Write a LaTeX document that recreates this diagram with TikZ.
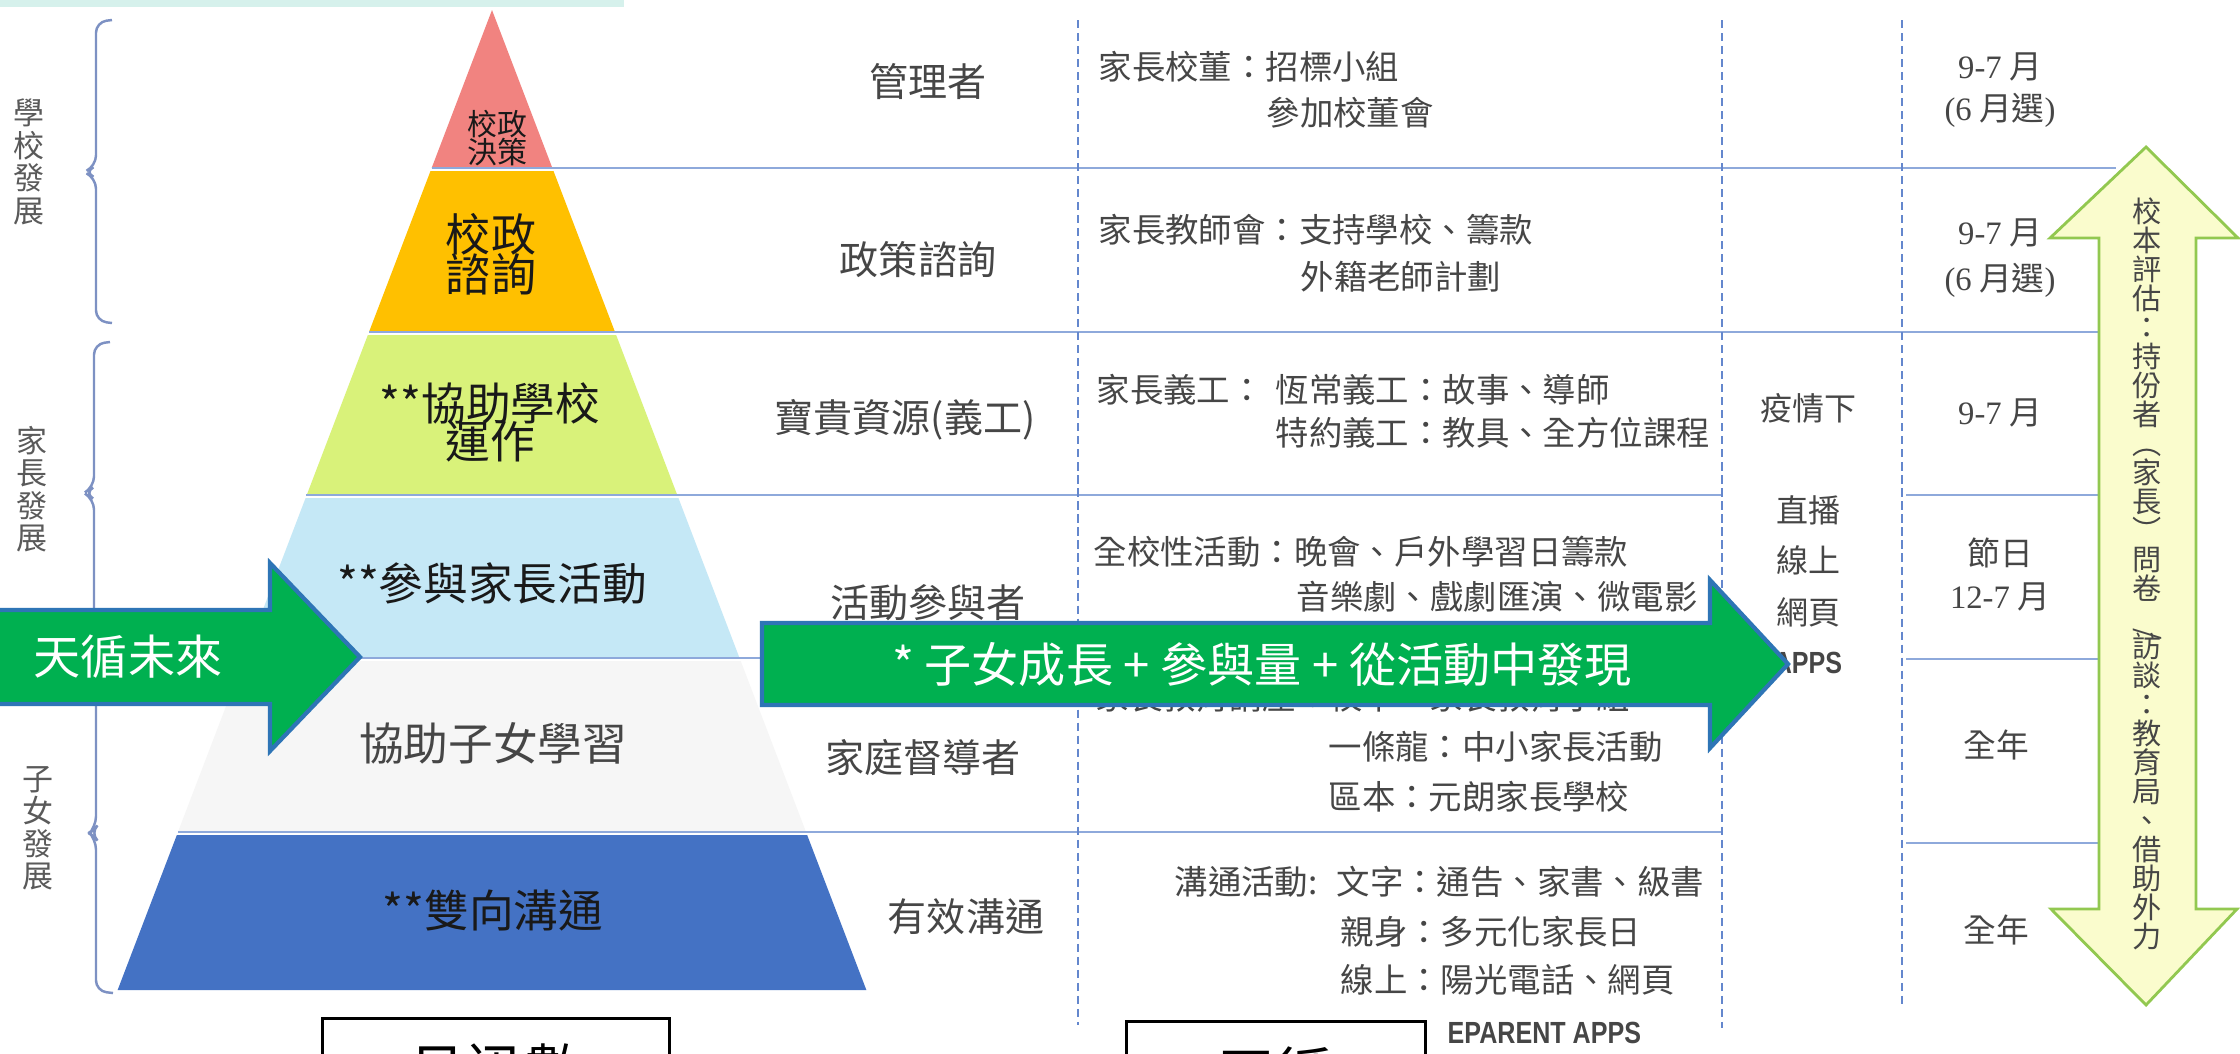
\documentclass[tikz,border=0pt]{standalone}
\usepackage{fontspec}
\usepackage{graphicx}
\setmainfont{Noto Sans CJK TC}
\newfontfamily\numfont{Liberation Serif}
\newfontfamily\appsfont[FakeStretch=0.82]{Liberation Sans}
\definecolor{tipred}{RGB}{241,131,128}
\definecolor{advorange}{RGB}{255,192,0}
\definecolor{helpgreen}{RGB}{217,242,122}
\definecolor{joinblue}{RGB}{197,232,246}
\definecolor{homewhite}{RGB}{246,246,246}
\definecolor{talkblue}{RGB}{68,114,196}
\definecolor{rowblue}{RGB}{142,169,219}
\definecolor{dashblue}{RGB}{100,135,205}
\definecolor{bracketblue}{RGB}{125,145,195}
\definecolor{sidegray}{RGB}{90,90,90}
\definecolor{cellgray}{RGB}{70,70,70}
\definecolor{laytextcol}{RGB}{25,25,25}
\definecolor{arrowgreen}{RGB}{0,176,80}
\definecolor{arrowblue}{RGB}{46,117,182}
\definecolor{evalyellow}{RGB}{250,252,205}
\definecolor{evalgreen}{RGB}{146,200,80}
\definecolor{stripcyan}{RGB}{214,241,236}

\begin{document}
\begin{tikzpicture}[x=0.01cm, y=-0.01cm,
    rowline/.style={draw=rowblue, line width=0.7pt},
    colline/.style={draw=dashblue, line width=0.6pt, dash pattern=on 2.3pt off 1.4pt},
    bracket/.style={draw=bracketblue, line width=0.7pt, rounded corners=3pt},
    sidetext/.style={inner sep=0, align=center, text=sidegray,
                     font={\fontsize{8.8}{9.25}\selectfont\lineskiplimit=-20pt}},
    laytext/.style={inner sep=0, align=center, text=laytextcol,
                    font={\fontsize{12.7}{10.8}\selectfont\lineskiplimit=-20pt}},
    roletext/.style={inner sep=0, text=cellgray, font={\fontsize{11.1}{13}\selectfont}},
    celltext/.style={inner sep=0, anchor=west, text=cellgray, font={\fontsize{9.5}{11}\selectfont}},
    modetext/.style={inner sep=0, text=cellgray, font={\fontsize{9.1}{11}\selectfont}},
    datetext/.style={inner sep=0, text=cellgray, font={\fontsize{9.3}{11}\selectfont}},
    appstext/.style={inner sep=0, text=cellgray, font={\appsfont\bfseries\fontsize{8.7}{10}\selectfont}},
    bigarrow/.style={fill=arrowgreen, draw=arrowblue, line width=1.2pt},
    arrowtext/.style={inner sep=0, text=white, font={\fontsize{13.4}{15}\selectfont}},
    evalarrow/.style={fill=evalyellow, draw=evalgreen, line width=0.8pt},
    evaltext/.style={inner sep=0, align=center, text=cellgray,
                     font={\fontsize{8.3}{8.25}\selectfont\lineskiplimit=-20pt}},
    capbox/.style={draw=black, line width=0.9pt, fill=white, inner sep=0,
                   minimum height=1.04cm, anchor=north, font={\fontsize{16.5}{18}\selectfont}}
]
    \useasboundingbox (0,0) rectangle (2240,1053);
    \clip (0,0) rectangle (2240,1053);
    \fill[white] (0,0) rectangle (2240,1053);
    \fill[stripcyan] (0,0) rectangle (624,7);

    \foreach \yt/\yb/\col in {10/168/tipred, 171/332/advorange, 335/495/helpgreen,
                              498/658/joinblue, 661/832/homewhite, 835/990/talkblue}
        \fill[\col] ({492-0.382*(\yt-10)},\yt) -- ({492+0.382*(\yt-10)},\yt)
                 -- ({492+0.382*(\yb-10)},\yb) -- ({492-0.382*(\yb-10)},\yb) -- cycle;

    \draw[rowline] (432,168) -- (2116,168);
    \draw[rowline] (369,332) -- (2099,332);
    \draw[rowline] (306,495) -- (1721,495);
    \draw[rowline] (1906,495) -- (2099,495);
    \draw[rowline] (245,658) -- (1721,658);
    \draw[rowline] (1906,659) -- (2099,659);
    \draw[rowline] (178,832) -- (1721,832);
    \draw[rowline] (1906,843) -- (2099,843);

    \draw[colline] (1078,20) -- (1078,1025);
    \draw[colline] (1722,20) -- (1722,1028);
    \draw[colline] (1902,20) -- (1902,1007);

    \draw[bracket] (112,20) -- (96,22) -- (96,166) -- (84,172) -- (96,178) -- (96,321) -- (112,323);
    \draw[bracket] (110,342) -- (94,344) -- (94,487) -- (84,493) -- (94,499) -- (94,650);
    \draw[bracket] (96,680) -- (96,827) -- (90,833) -- (96,839) -- (96,991) -- (113,993);

    \node[sidetext] (schooldev) at (29,162) {學\\校\\發\\展};
    \node[sidetext] (parentdev) at (32,489) {家\\長\\發\\展};
    \node[sidetext] (childdev)  at (38,828) {子\\女\\發\\展};

    \node[laytext, font={\fontsize{8.5}{7.8}\selectfont\lineskiplimit=-20pt}] (decide) at (497,138) {校政\\決策};
    \node[laytext, font={\fontsize{12.8}{11.4}\selectfont\lineskiplimit=-20pt}] (consult) at (491,254) {校政\\諮詢};
    \node[laytext] (assist)   at (490,422) {**協助學校\\運作};
    \node[laytext] (join)     at (492,583) {**參與家長活動};
    \node[laytext, text=cellgray] (homework) at (493,743) {協助子女學習};
    \node[laytext] (twoway)   at (493,910) {**雙向溝通};

    \node[roletext] (manager)   at (928,82)  {管理者};
    \node[roletext] (policy)    at (918,260) {政策諮詢};
    \node[roletext] (resource)  at (905,420) {寶貴資源(義工)};
    \node[roletext] (joiner)    at (928,603) {活動參與者};
    \node[roletext] (tutor)     at (923,757) {家庭督導者};
    \node[roletext] (talker)    at (966,917) {有效溝通};

    \node[celltext] (board)     at (1098,67)  {家長校董：招標小組};
    \node[celltext] (boardmeet) at (1266,113) {參加校董會};
    \node[celltext] (pta)       at (1098,230) {家長教師會：支持學校、籌款};
    \node[celltext] (netplan)   at (1300,277) {外籍老師計劃};
    \node[celltext] (helpers)   at (1096,390) {家長義工：};
    \node[celltext] (regular)   at (1275,390) {恆常義工：故事、導師};
    \node[celltext] (special)   at (1275,433) {特約義工：教具、全方位課程};
    \node[celltext] (wholesch)  at (1093,552) {全校性活動：晚會、戶外學習日籌款};
    \node[celltext] (shows)     at (1296,597) {音樂劇、戲劇匯演、微電影};
    \node[celltext] (parented)  at (1095,697) {家長教育講座：校本、家長教育小組};
    \node[celltext] (dragon)    at (1328,747) {一條龍：中小家長活動};
    \node[celltext] (district)  at (1328,797) {區本：元朗家長學校};
    \node[celltext] (commact)   at (1174,882) {溝通活動:};
    \node[celltext] (letters)   at (1336,882) {文字：通告、家書、級書};
    \node[celltext] (inperson)  at (1340,932) {親身：多元化家長日};
    \node[celltext] (online)    at (1340,980) {線上：陽光電話、網頁};
    \node[appstext, anchor=west] (eparent) at (1447,1033) {EPARENT APPS};

    \node[modetext] (pandemic)  at (1808,408) {疫情下};
    \node[modetext] (live)      at (1808,510) {直播};
    \node[modetext] (webline)   at (1808,560) {線上};
    \node[modetext] (webpage)   at (1808,612) {網頁};
    \node[appstext] (apps)      at (1808,663) {APPS};

    \node[datetext] (date1a) at (2000,67)  {{\numfont 9-7} 月};
    \node[datetext] (date1b) at (2000,110) {{\numfont (6} 月選{\numfont )}};
    \node[datetext] (date2a) at (2000,233) {{\numfont 9-7} 月};
    \node[datetext] (date2b) at (2000,280) {{\numfont (6} 月選{\numfont )}};
    \node[datetext] (date3)  at (2000,413) {{\numfont 9-7} 月};
    \node[datetext] (date4a) at (2000,553) {節日};
    \node[datetext] (date4b) at (2000,597) {{\numfont 12-7} 月};
    \node[datetext] (date5)  at (1996,745) {全年};
    \node[datetext] (date6)  at (1996,930) {全年};

    \draw[evalarrow] (2146,147) -- (2238,238) -- (2196,238) -- (2196,909) -- (2237,909)
        -- (2146,1005) -- (2051,909) -- (2099,909) -- (2099,238) -- (2050,238) -- cycle;
    \node[evaltext] (evaluation) at (2147,574)
        {校\\本\\評\\估\\：\\持\\份\\者\\︵\\家\\長\\︶\\問\\卷\\\rotatebox{-90}{/}\\訪\\談\\：\\教\\育\\局\\、\\借\\助\\外\\力};

    \draw[bigarrow] (-10,610) -- (270,610) -- (270,563) -- (360,657) -- (270,751) -- (270,704) -- (-10,704) -- cycle;
    \node[arrowtext] (future) at (128,657) {天循未來};
    \draw[bigarrow] (762,623) -- (1710,623) -- (1710,580) -- (1788,664) -- (1710,748) -- (1710,705) -- (762,705) -- cycle;
    \node[arrowtext] (growth) at (1262,664) {* 子女成長 + 參與量 + 從活動中發現};

    \node[capbox, minimum width=3.47cm] (capleft)  at (496,1017)  {呂迅數};
    \node[capbox, minimum width=2.99cm] (capright) at (1276,1020) {天循};
\end{tikzpicture}
\end{document}
